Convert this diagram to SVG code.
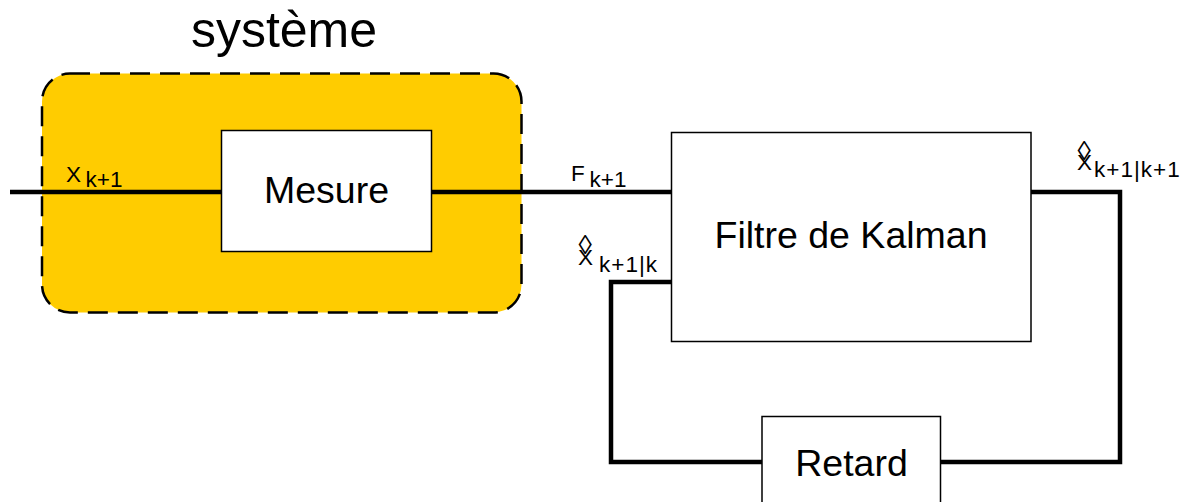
<svg xmlns="http://www.w3.org/2000/svg" width="1190" height="502" viewBox="0 0 1190 502">
<style>
.box{fill:#fff;stroke:#000;stroke-width:1.5}
.wire{fill:none;stroke:#000;stroke-width:4.5;stroke-linejoin:miter}
.lbl{font-family:"Liberation Sans",Arial,sans-serif;fill:#000}
.big{font-size:37.5px;text-anchor:middle}
.sym{font-size:22.5px}
.sub{font-size:22.5px}
.wide{letter-spacing:1px}
.hat{font-size:27px}
</style>
<rect x="0" y="0" width="1190" height="502" fill="#fff"/>
<g id="systeme">
<rect x="42" y="73.5" width="479.5" height="239" rx="28" ry="28" fill="#ffcc00" stroke="#000" stroke-width="2.5" stroke-dasharray="20 10"/>
<text class="lbl" x="284" y="47" font-size="50" text-anchor="middle">système</text>
</g>
<g id="connectors">
<polyline class="wire" points="10,192 222,192"/>
<polyline class="wire" points="432,192 672,192"/>
<polyline class="wire" points="1031,192 1120,192 1120,462 940,462"/>
<polyline class="wire" points="762,462 611,462 611,282 672,282"/>
</g>
<g id="mesure">
<rect class="box" x="221.5" y="130.5" width="210" height="121"/>
<text class="lbl big" x="326.5" y="203">Mesure</text>
</g>
<g id="kalman">
<rect class="box" x="671.5" y="132.5" width="359.5" height="209"/>
<text class="lbl big" x="851" y="248">Filtre de Kalman</text>
</g>
<g id="retard">
<rect class="box" x="762" y="416.5" width="178.5" height="100"/>
<text class="lbl big" x="851.5" y="476">Retard</text>
</g>
<g id="labels">
<text class="lbl sym" x="66" y="182">X</text>
<text class="lbl sub" x="85.5" y="187">k+1</text>
<text class="lbl sym" x="571" y="181">F</text>
<text class="lbl sub" x="589.5" y="186.5">k+1</text>
<text class="lbl hat" x="578.5" y="254">◊</text>
<text class="lbl sym" x="578" y="265">X</text>
<text class="lbl sub wide" x="599" y="271.5">k+1|k</text>
<text class="lbl hat" x="1077.5" y="160">◊</text>
<text class="lbl sym" x="1077" y="170">X</text>
<text class="lbl sub wide" x="1094" y="176.5">k+1|k+1</text>
</g>
</svg>
